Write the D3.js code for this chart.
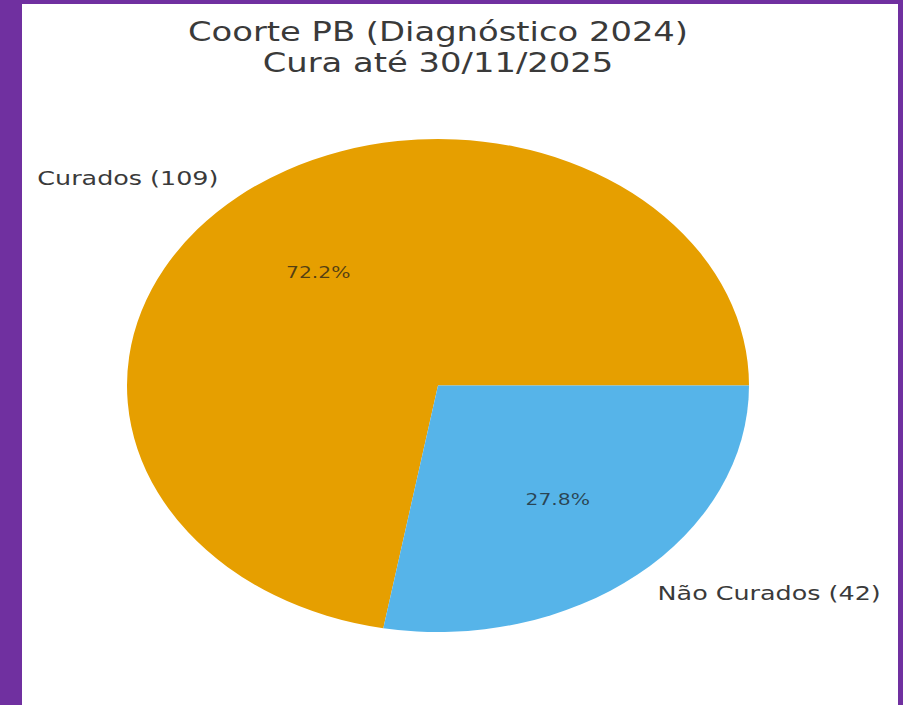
<!DOCTYPE html>
<html>
<head>
<meta charset="utf-8">
<script src="https://cdn.jsdelivr.net/npm/d3@7"></script>
<style>
  html, body { margin: 0; padding: 0; background: #7030a0; }
  svg { display: block; }
  text { font-family: "DejaVu Sans", sans-serif; }
</style>
</head>
<body>
<svg id="chart" width="903" height="705"></svg>
<script>
const categories = ["Curados", "Não Curados"];
const values = [109, 42];
const colors = ["#E69F00", "#56B4E9"];
const titleLines = ["Coorte PB (Diagnóstico 2024)", "Cura até 30/11/2025"];

const W = 903, H = 705;
const svg = d3.select("#chart");

// white panel inside purple frame
svg.append("rect").attr("x", 0).attr("y", 0).attr("width", W).attr("height", H).attr("fill", "#7030a0");
svg.append("rect").attr("x", 22).attr("y", 4).attr("width", 876).attr("height", H - 4).attr("fill", "#ffffff");

const cx = 438, cy = 385.5, rx = 311, ry = 246.5;
const sx = 1.27; // horizontal stretch of the original figure

const total = d3.sum(values);
const pie = d3.pie().sort(null).value(d => d)
  .startAngle(Math.PI / 2).endAngle(Math.PI / 2 - 2 * Math.PI);
const arcs = pie(values);

const arc = d3.arc().innerRadius(0).outerRadius(ry);
const pieG = svg.append("g").attr("transform", `translate(${cx},${cy}) scale(${rx / ry},1)`);
pieG.selectAll("path").data(arcs).join("path")
  .attr("d", arc)
  .attr("fill", (d, i) => colors[i]);

function pos(d, f) {
  const a = (d.startAngle + d.endAngle) / 2;
  return [cx + f * rx * Math.sin(a), cy - f * ry * Math.cos(a)];
}

function stretchedText(x, y, txt, size, anchor, fill, opacity) {
  const g = svg.append("g").attr("transform", `translate(${x},${y}) scale(${sx},1)`);
  g.append("text")
    .attr("x", 0).attr("y", 0)
    .attr("text-anchor", anchor)
    .attr("dominant-baseline", "central")
    .attr("font-size", size)
    .attr("fill", fill)
    .attr("fill-opacity", opacity == null ? 1 : opacity)
    .text(txt);
}

// outer labels
arcs.forEach((d, i) => {
  const [x, y] = pos(d, 1.1);
  const anchor = x < cx ? "end" : "start";
  stretchedText(x, y, `${categories[i]} (${values[i]})`, 20, anchor, "#3a3a3a");
});

// percentage labels
const fmt = d3.format(".1f");
arcs.forEach((d, i) => {
  const [x, y] = pos(d, 0.6);
  stretchedText(x, y, fmt(values[i] / total * 100) + "%", 16, "middle", "#1a1a1a", 0.72);
});

// title
titleLines.forEach((t, i) => {
  const g = svg.append("g").attr("transform", `translate(${cx},${41 + i * 31}) scale(1.3,1)`);
  g.append("text")
    .attr("text-anchor", "middle")
    .attr("font-size", 26)
    .attr("fill", "#3a3a3a")
    .text(t);
});
</script>
</body>
</html>
